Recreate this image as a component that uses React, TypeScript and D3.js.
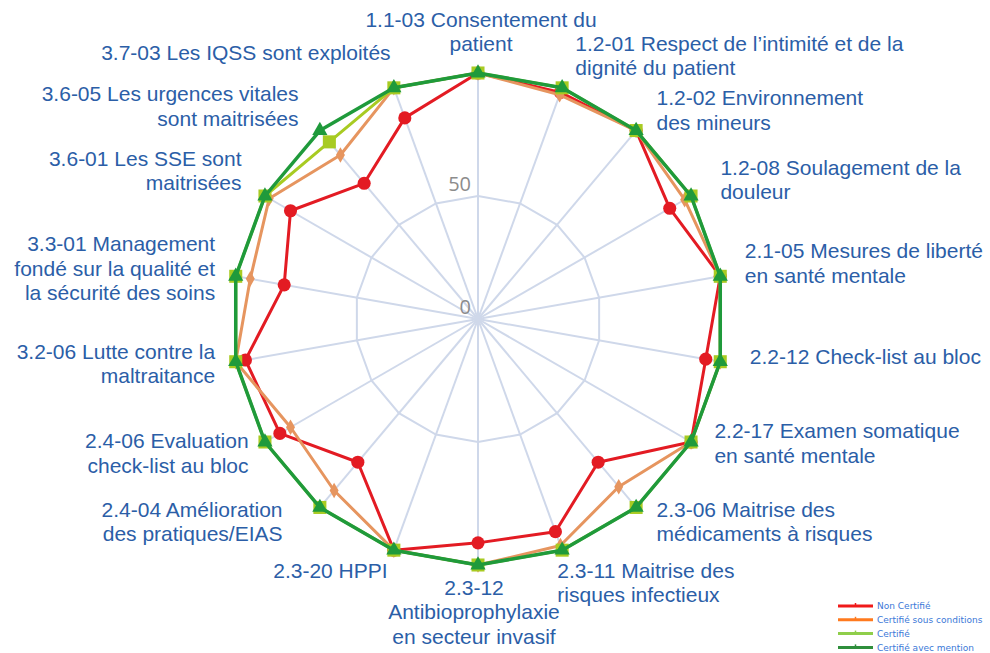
import React from "react";
import * as d3 from "d3";

const W = 990;
const H = 653;

const categories = [
  "1.1-03 Consentement du\npatient",
  "1.2-01 Respect de l\u2019intimité et de la\ndignité du patient",
  "1.2-02 Environnement\ndes mineurs",
  "1.2-08 Soulagement de la\ndouleur",
  "2.1-05 Mesures de liberté\nen santé mentale",
  "2.2-12 Check-list au bloc",
  "2.2-17 Examen somatique\nen santé mentale",
  "2.3-06 Maitrise des\nmédicaments à risques",
  "2.3-11 Maitrise des\nrisques infectieux",
  "2.3-12\nAntibioprophylaxie\nen secteur invasif",
  "2.3-20 HPPI",
  "2.4-04 Amélioration\ndes pratiques/EIAS",
  "2.4-06 Evaluation\ncheck-list au bloc",
  "3.2-06 Lutte contre la\nmaltraitance",
  "3.3-01 Management\nfondé sur la qualité et\nla sécurité des soins",
  "3.6-01 Les SSE sont\nmaitrisées",
  "3.6-05 Les urgences vitales\nsont maitrisées",
  "3.7-03 Les IQSS sont exploités",
];

const nonCertifie = [100, 98, 100, 90, 100, 94, 100, 76, 92, 91, 100, 76, 93, 96, 80, 88, 72, 87];
const sousConditions = [100, 97, 100, 97, 100, 100, 100, 89, 98, 100, 100, 91, 88, 100, 94, 98, 87, 100];
const certifie = [100, 100, 100, 100, 100, 100, 100, 100, 100, 100, 100, 100, 100, 100, 100, 100, 94, 100];
const avecMention = [100, 100, 100, 100, 100, 100, 100, 100, 100, 100, 100, 100, 100, 100, 100, 100, 100, 100];

const seriesNames = ["Non Certifié", "Certifié sous conditions", "Certifié", "Certifié avec mention"];
const radialTicks = [0, 50];
const gridLevels = [50, 100];

// layout nudges for category labels [dx, dy]
const labelNudges: [number, number][] = [
  [3, -7], [4, 0], [3, 6], [6, 1], [-2, -7], [3, -9], [0, -16], [3, -12], [-14, 0],
  [-4, 0], [3, 0], [-20, -12], [7, -6], [6, -4], [6, 0], [0, -8], [-4, 2], [6, -14],
];

export default function App() {
  const cx = 478;
  const cy = 319;
  const R = 246;
  const n = categories.length;
  const r = d3.scaleLinear().domain([0, 100]).range([0, R]);
  const ang = d3.scaleLinear().domain([0, n]).range([0, 2 * Math.PI]);
  const pt = (i: number, v: number): [number, number] => [
    cx + r(v) * Math.sin(ang(i)),
    cy - r(v) * Math.cos(ang(i)),
  ];
  const closed = d3.line().curve(d3.curveLinearClosed);

  const series = [
    { name: seriesNames[0], values: nonCertifie, color: "#e31b23", width: 3, symbol: d3.symbolCircle, size: 135, legend: "#f01a1a" },
    { name: seriesNames[1], values: sousConditions, color: "#e6955f", width: 3, symbol: d3.symbolDiamond, size: 70, legend: "#ff7a1e" },
    { name: seriesNames[2], values: certifie, color: "#a8cb22", width: 3, symbol: d3.symbolSquare, size: 170, legend: "#8fce4a" },
    { name: seriesNames[3], values: avecMention, color: "#1f9a3b", width: 3.5, symbol: d3.symbolTriangle, size: 100, legend: "#2f8f3c" },
  ];

  const FS = 21;
  const LH = 24.5;

  return (
    <div style={{ position: "fixed", left: 0, top: 0 }}>
      <svg width={W} height={H} style={{ display: "block", background: "#fff" }}>
        <g>
          {gridLevels.map((lv) => (
            <path
              key={"g" + lv}
              d={closed(d3.range(n).map((i) => pt(i, lv))) || ""}
              fill="none"
              stroke="#cfd8ea"
              strokeWidth={2}
            />
          ))}
          {d3.range(n).map((i) => {
            const [x, y] = pt(i, 100);
            return <line key={"s" + i} x1={cx} y1={cy} x2={x} y2={y} stroke="#cfd8ea" strokeWidth={2} />;
          })}
        </g>
        <g fontFamily="'Open Sans', 'Liberation Sans', Arial, sans-serif" fontSize={20} fill="#8c8c8c">
          {radialTicks.map((t) => (
            <text key={"t" + t} x={cx - 7} y={cy - r(t) - 5} textAnchor="end">
              {t}
            </text>
          ))}
        </g>
        {series.map((s) => (
          <g key={s.name}>
            <path
              d={closed(s.values.map((v, i) => pt(i, v))) || ""}
              fill="none"
              stroke={s.color}
              strokeWidth={s.width}
              strokeLinejoin="round"
            />
            {s.values.map((v, i) => {
              const [x, y] = pt(i, v);
              return (
                <path
                  key={i}
                  transform={`translate(${x},${y})`}
                  d={d3.symbol().type(s.symbol).size(s.size)() || ""}
                  fill={s.color}
                />
              );
            })}
          </g>
        ))}
        <g fontFamily="'Liberation Sans', Arial, sans-serif" fontSize={FS} fill="#2b5ea7">
          {categories.map((c, i) => {
            const lines = c.split("\n");
            const a = ang(i);
            const s = Math.sin(a);
            const co = Math.cos(a);
            const h = lines.length * LH;
            const mid = Math.abs(s) < 0.1;
            const anchor = mid ? "middle" : s > 0 ? "start" : "end";
            const x = cx + R * s + (mid ? 0 : 27 * s) + labelNudges[i][0];
            const centerY = cy - R * co - co * (h / 2 + 10) + labelNudges[i][1];
            const y0 = centerY - h / 2 + LH / 2 + FS * 0.35;
            return (
              <text key={"l" + i} textAnchor={anchor}>
                {lines.map((ln, k) => (
                  <tspan key={k} x={x} y={y0 + k * LH}>
                    {ln}
                  </tspan>
                ))}
              </text>
            );
          })}
        </g>
        <g fontFamily="'DejaVu Sans', sans-serif" fontSize={9} fill="#3b78d8">
          {series.map((s, k) => {
            const y = 606 + k * 13.8;
            return (
              <g key={"lg" + k}>
                <line x1={838} x2={873} y1={y} y2={y} stroke={s.legend} strokeWidth={3} />
                <line x1={855.5} x2={855.5} y1={y - 3} y2={y + 1} stroke={s.legend} strokeWidth={1.5} />
                <text x={877} y={y + 3.2}>
                  {s.name}
                </text>
              </g>
            );
          })}
        </g>
      </svg>
    </div>
  );
}
